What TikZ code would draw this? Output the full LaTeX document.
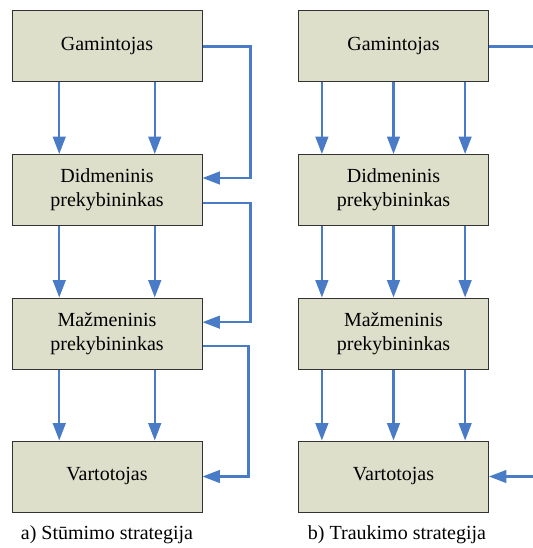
\documentclass[tikz,border=0pt]{standalone}
\usepackage{fontspec}
\setmainfont{Liberation Serif}
\newfontfamily\labelfont{Liberation Serif}
\usetikzlibrary{arrows.meta,calc}
\definecolor{boxfill}{HTML}{DDDFCA}
\definecolor{flow}{HTML}{4A7BC6}
\begin{document}
\begin{tikzpicture}[x=0.75pt,y=-0.75pt,
  stage/.style={draw=black!80, line width=0.75pt, fill=boxfill,
    minimum width=142.5pt, minimum height=53.25pt, inner sep=0pt,
    align=center, font=\labelfont\fontsize{15}{18}\selectfont},
  flowline/.style={draw=flow, line width=1.6pt},
  flowarrow/.style={flowline, -{Triangle[length=13pt,width=9.5pt]}},
  caption/.style={font=\labelfont\fontsize{15}{18}\selectfont, inner sep=0pt}]
\useasboundingbox (0,0) rectangle (532,548);

% push strategy (left column)
\node[stage] (l1) at (107,46.5)  {Gamintojas};
\node[stage] (l2) at (107,190)   {Didmeninis\\prekybininkas};
\node[stage] (l3) at (107,333.5) {Mažmeninis\\prekybininkas};
\node[stage] (l4) at (107,476.5) {Vartotojas};

% pull strategy (right column)
\node[stage] (r1) at (393.5,46.5)  {Gamintojas};
\node[stage] (r2) at (393.5,190)   {Didmeninis\\prekybininkas};
\node[stage] (r3) at (393.5,333.5) {Mažmeninis\\prekybininkas};
\node[stage] (r4) at (393.5,476.5) {Vartotojas};

% vertical flows, left
\foreach \a/\b in {l1/l2,l2/l3,l3/l4}{
  \foreach \f in {0.25,0.75}{
    \draw[flowarrow] ($(\a.south west)!\f!(\a.south east)$) -- ($(\b.north west)!\f!(\b.north east)$);
  }
}
% vertical flows, right
\foreach \a/\b in {r1/r2,r2/r3,r3/r4}{
  \foreach \f in {0.125,0.5,0.875}{
    \draw[flowarrow] ($(\a.south west)!\f!(\a.south east)$) -- ($(\b.north west)!\f!(\b.north east)$);
  }
}

% side loops, left
\draw[flowarrow] (l1.east) -- ++(48,0) |- ([yshift=9pt]l2.east);
\draw[flowarrow] ([yshift=-9.5pt]l2.east) -- ++(48,0) |- ([yshift=8.5pt]l3.east);
\draw[flowarrow] ([yshift=-9.5pt]l3.east) -- ++(46,0) |- (l4.east);

% side links, right
\coordinate (rout) at (534,46.5);
\coordinate (rin) at (534,476.5);
\draw[flowline] (r1.east) -- (rout);
\draw[flowarrow] (rin) -- (r4.east);

% captions
\node[caption] (capa) at (107,535) {a) Stūmimo strategija};
\node[caption] (capb) at (397,535) {b) Traukimo strategija};
\end{tikzpicture}
\end{document}
